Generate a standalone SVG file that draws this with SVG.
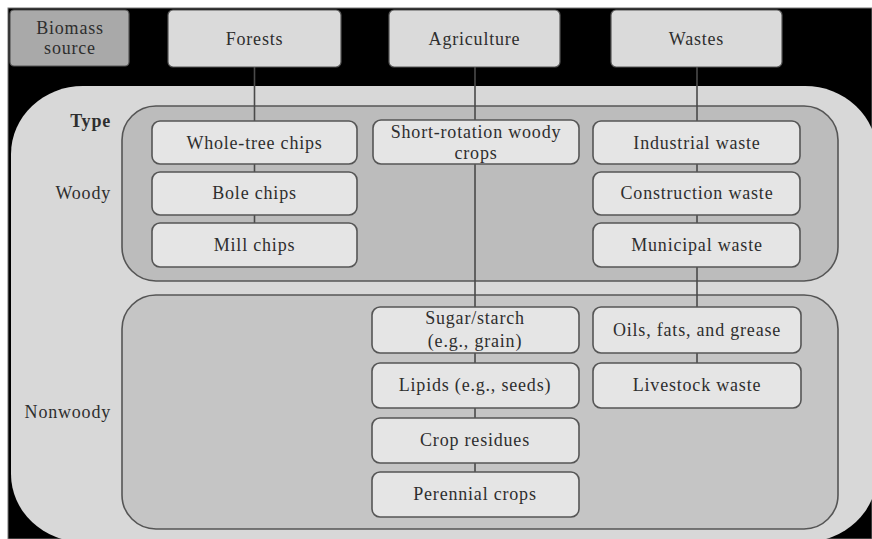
<svg xmlns="http://www.w3.org/2000/svg" width="872" height="539" viewBox="0 0 872 539">
<style>
text{font-family:"Liberation Serif","Times New Roman",serif;fill:#2e2e2e;font-size:18px;text-anchor:middle;letter-spacing:0.8px}
.hdr{fill:#dadada;stroke:#555;stroke-width:1.2}
.box{fill:#e5e5e5;stroke:#555;stroke-width:1.6}
.grp{stroke:#555;stroke-width:1.6}
.lbl{text-anchor:end}
.con{stroke:#4a4a4a;stroke-width:1.6;fill:none}
</style>
<rect x="0" y="0" width="872" height="539" fill="#fff"/>
<rect x="8" y="8" width="864" height="531" fill="#000" stroke="#777" stroke-width="1"/>
<rect id="typeArea" x="11" y="86" width="866" height="456" rx="72" ry="68" fill="#d8d8d8"/>

<g id="labels">
<text class="lbl" x="111" y="127" font-weight="bold">Type</text>
<text class="lbl" x="111" y="199">Woody</text>
<text class="lbl" x="111" y="418">Nonwoody</text>
</g>

<g id="woody"><rect class="grp" x="122" y="106" width="716" height="175" rx="34" fill="#bcbcbc"/></g>
<g id="nonwoody"><rect class="grp" x="122" y="295" width="716" height="234" rx="34" fill="#c5c5c5"/></g>

<g id="connectors">
<line class="con" x1="254.5" y1="66" x2="254.5" y2="223"/>
<line class="con" x1="475" y1="66" x2="475" y2="472"/>
<line class="con" x1="697" y1="66" x2="697" y2="363"/>
</g>

<g id="biomass-source"><rect x="10" y="10" width="119" height="56" rx="4" fill="#a9a9a9" stroke="#555" stroke-width="1.2"/>
<text x="70" y="34" font-size="15">Biomass</text><text x="70" y="54" font-size="15">source</text></g>
<g id="forests"><rect class="hdr" x="168" y="10" width="173" height="57" rx="5"/><text x="254.5" y="45" font-size="17">Forests</text></g>
<g id="agriculture"><rect class="hdr" x="389" y="10" width="171" height="57" rx="5"/><text x="474.5" y="45" font-size="17">Agriculture</text></g>
<g id="wastes"><rect class="hdr" x="611" y="10" width="171" height="57" rx="5"/><text x="696.5" y="45" font-size="17">Wastes</text></g>

<g id="whole-tree-chips"><rect class="box" x="152" y="121" width="205" height="43" rx="8"/><text x="254.5" y="149">Whole-tree chips</text></g>
<g id="bole-chips"><rect class="box" x="152" y="172" width="205" height="43" rx="8"/><text x="254.5" y="199">Bole chips</text></g>
<g id="mill-chips"><rect class="box" x="152" y="223" width="205" height="44" rx="8"/><text x="254.5" y="251">Mill chips</text></g>

<g id="short-rotation"><rect class="box" x="373" y="120" width="206" height="44" rx="8"/><text x="476" y="138">Short-rotation woody</text><text x="476" y="159">crops</text></g>

<g id="industrial-waste"><rect class="box" x="593" y="121" width="207" height="43" rx="8"/><text x="697" y="149">Industrial waste</text></g>
<g id="construction-waste"><rect class="box" x="593" y="172" width="207" height="43" rx="8"/><text x="697" y="199">Construction waste</text></g>
<g id="municipal-waste"><rect class="box" x="593" y="223" width="207" height="44" rx="8"/><text x="697" y="251">Municipal waste</text></g>

<g id="sugar-starch"><rect class="box" x="372" y="307" width="207" height="46" rx="8"/><text x="475" y="324">Sugar/starch</text><text x="475" y="347">(e.g., grain)</text></g>
<g id="lipids"><rect class="box" x="372" y="363" width="207" height="45" rx="8"/><text x="475" y="391">Lipids (e.g., seeds)</text></g>
<g id="crop-residues"><rect class="box" x="372" y="418" width="207" height="45" rx="8"/><text x="475" y="446">Crop residues</text></g>
<g id="perennial-crops"><rect class="box" x="372" y="472" width="207" height="45" rx="8"/><text x="475" y="500">Perennial crops</text></g>

<g id="oils"><rect class="box" x="593" y="307" width="208" height="46" rx="8"/><text x="697" y="336">Oils, fats, and grease</text></g>
<g id="livestock"><rect class="box" x="593" y="363" width="208" height="45" rx="8"/><text x="697" y="391">Livestock waste</text></g>
</svg>
